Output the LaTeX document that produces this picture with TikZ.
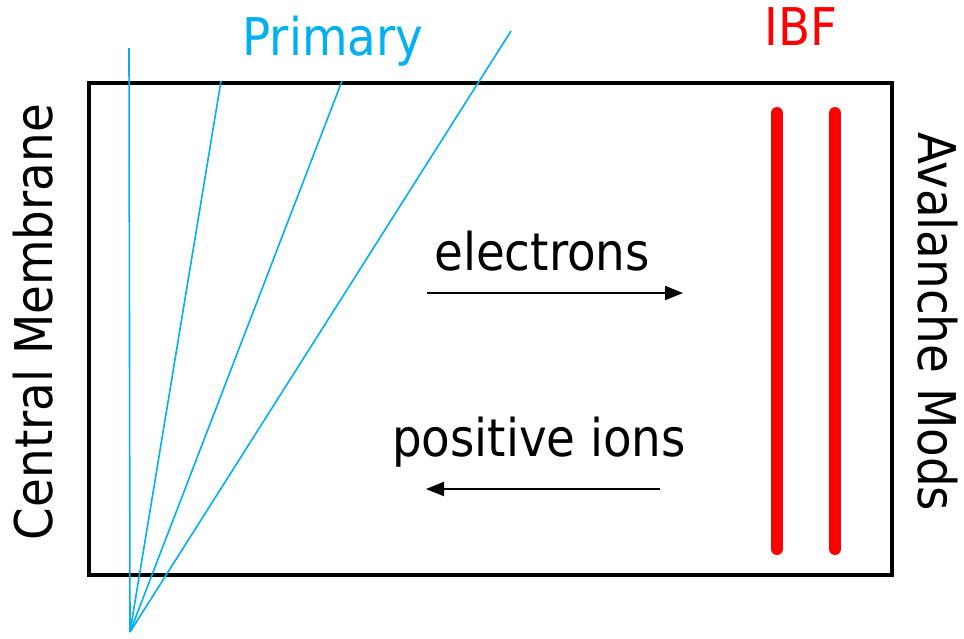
\documentclass[tikz,border=0pt]{standalone}
\usepackage{fontspec}
\setmainfont{DejaVu Sans Condensed}
\usetikzlibrary{arrows.meta}
\definecolor{prim}{RGB}{0,176,240}
\definecolor{ibf}{RGB}{255,0,0}
\begin{document}
\begin{tikzpicture}[x=1pt,y=-1pt,
  lbl/.style={inner sep=0pt,font=\fontsize{52}{58}\selectfont},
  track/.style={prim,line width=1.6pt},
  bar/.style={ibf,line width=12pt,line cap=round},
  drift/.style={line width=2pt,-{Triangle[length=18pt,width=14pt]}}]
\useasboundingbox (0,0) rectangle (964,638);
\draw[line width=4pt] (89,83) rectangle (892,575);
% primary tracks
\coordinate (o) at (130,632);
\coordinate (t1) at (129,48);
\coordinate (t2) at (221,81);
\coordinate (t3) at (342,81);
\coordinate (t4) at (511,31);
\draw[track] (o) -- (t1);
\draw[track] (o) -- (t2);
\draw[track] (o) -- (t3);
\draw[track] (o) -- (t4);
% IBF bars
\coordinate (b1t) at (777,113);
\coordinate (b1b) at (777,549);
\coordinate (b2t) at (835,113);
\coordinate (b2b) at (835,549);
\draw[bar] (b1t) -- (b1b);
\draw[bar] (b2t) -- (b2b);
% labels
\node[lbl,text=prim,anchor=base] (prim) at (333,55) {Primary};
\node[lbl,text=ibf,anchor=base] (ibf) at (801,45) {IBF};
\node[lbl,anchor=base] (el) at (542,270) {electrons};
\node[lbl,anchor=base] (ions) at (539,456) {positive ions};
\node[lbl,anchor=base,rotate=90] (cm) at (52,322) {Central Membrane};
\node[lbl,anchor=base,rotate=-90] (am) at (918,322) {Avalanche Mods};
% drift arrows
\coordinate (e1) at (427,293);
\coordinate (e2) at (683,293);
\coordinate (i1) at (660,489);
\coordinate (i2) at (426,489);
\draw[drift] (e1) -- (e2);
\draw[drift] (i1) -- (i2);
\end{tikzpicture}
\end{document}
